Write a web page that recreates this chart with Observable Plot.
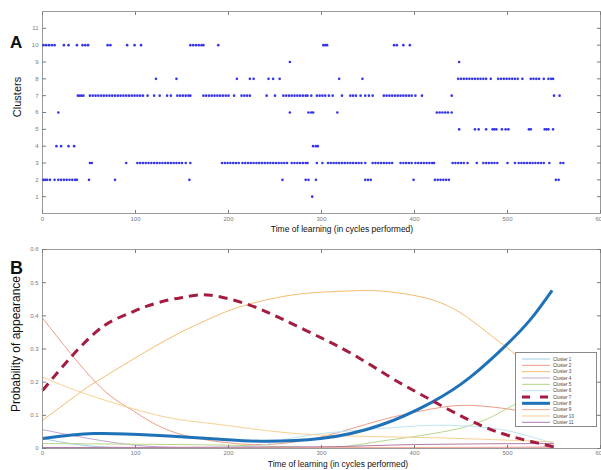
<!DOCTYPE html>
<html><head><meta charset="utf-8">
<script src="https://cdn.jsdelivr.net/npm/d3@7"></script>
<script src="https://cdn.jsdelivr.net/npm/@observablehq/plot@0.6"></script>
<style>
body{margin:0;background:#fff;font-family:"Liberation Sans",Arial,sans-serif;}
#wrap{position:relative;width:601px;height:470px;overflow:hidden;background:#fff;}
.abs{position:absolute;}
.panel{position:absolute;left:0;}
.lbl{position:absolute;color:#111;white-space:nowrap;}
</style>
</head><body>
<div id="wrap"></div>
<script>
// ---------- Panel A data: time steps (cycles) at which each cluster was visited ----------
const c1 = [290];
const c2 = [1,3,5,8,13,17,20,23,26,29,32,35,37,50,78,158,258,283,286,294,347,350,353,399,422,425,428,431,434,437,552,555];
const c3 = [51,53,90,102,105,108,111,114,117,120,123,126,129,132,135,138,141,144,147,150,154,159,193,196,199,202,205,208,211,215,218,221,224,227,230,233,236,239,242,245,248,251,254,257,260,263,268,271,274,277,280,283,285,295,301,307,310,313,316,319,322,325,328,331,334,337,340,343,347,355,358,361,364,367,370,373,376,385,388,391,394,397,401,404,407,410,413,416,419,421,441,444,447,450,453,457,467,474,477,480,483,486,489,500,508,512,515,518,521,524,527,530,533,536,539,545,557,560];
const c4 = [15,20,28,34,291,294,296];
const c5 = [448,465,469,477,484,486,488,494,498,501,523,525,540,542,544,549];
const c6 = [17,266,286,289,291,317,424,427,430,433,436,440];
const c7 = [38,40,42,44,51,54,57,60,63,66,69,72,75,78,81,84,87,90,93,96,99,102,105,108,113,120,126,134,138,145,148,151,154,157,159,173,176,179,182,185,188,191,194,197,200,206,214,217,220,223,241,250,259,262,265,268,271,274,277,280,283,285,289,295,298,301,304,308,312,322,331,334,337,342,347,351,355,367,370,373,376,379,382,385,388,391,394,397,401,408,440,550,556];
const c8 = [122,144,209,223,227,243,248,255,319,344,447,450,453,456,459,462,465,468,471,474,477,482,490,493,496,499,502,505,508,511,516,525,528,531,534,539,544,547,549];
const c9 = [266,448];
const c10 = [1,4,7,10,13,23,28,37,43,46,49,70,73,91,99,106,159,162,165,168,171,173,189,302,304,306,378,381,388,395];
const c11 = [];
const clusterTimes = [c1,c2,c3,c4,c5,c6,c7,c8,c9,c10,c11];

// ---------- Panel B data: probability of appearance curves ----------
const seriesNames = ["Cluster 1","Cluster 2","Cluster 3","Cluster 4","Cluster 5","Cluster 6","Cluster 7","Cluster 8","Cluster 9","Cluster 10","Cluster 11"];
const p1 = [[0,0.03],[30,0.015],[70,0.004],[150,0.001],[300,0.001],[550,0.001]];
const p2 = [[0,0.393],[57,0.2],[91,0.125],[120,0.075],[152,0.04],[191,0.02],[240,0.012],[300,0.035],[363,0.085],[420,0.12],[460,0.13],[510,0.115],[550,0.09]];
const p3 = [[0,0.085],[41,0.17],[57,0.2],[98,0.27],[145,0.345],[191,0.405],[222,0.435],[274,0.465],[331,0.475],[363,0.475],[417,0.45],[457,0.395],[485,0.335],[510,0.28],[530,0.22],[550,0.15]];
const p4 = [[0,0.057],[50,0.03],[100,0.01],[150,0.003],[250,0.001],[550,0.004]];
const p5 = [[0,0.015],[100,0.013],[200,0.01],[306,0.003],[371,0.025],[420,0.045],[457,0.067],[475,0.085],[506,0.13],[550,0.19]];
const p6 = [[0,0.002],[200,0.004],[250,0.02],[300,0.045],[363,0.06],[420,0.07],[470,0.065],[506,0.05],[550,0.015]];
const p7 = [[0,0.175],[32,0.28],[57,0.35],[75,0.385],[95,0.41],[113,0.43],[136,0.448],[156,0.458],[181,0.462],[222,0.433],[258,0.39],[295,0.34],[333,0.285],[374,0.215],[399,0.175],[435,0.12],[471,0.07],[506,0.035],[550,0.005]];
const p8 = [[0,0.03],[55,0.045],[120,0.04],[191,0.028],[234,0.022],[299,0.03],[363,0.07],[419,0.14],[460,0.215],[498,0.31],[525,0.39],[548,0.477]];
const p9 = [[0,0.002],[300,0.003],[550,0.004]];
const p10 = [[0,0.215],[41,0.17],[91,0.125],[141,0.09],[191,0.072],[274,0.045],[374,0.035],[450,0.03],[550,0.02]];
const p11 = [[0,0.003],[300,0.005],[400,0.012],[550,0.015]];
const probSeries = [p1,p2,p3,p4,p5,p6,p7,p8,p9,p10,p11];

const seriesColors = ["#9ecbe6","#ee9c86","#f5bb6c","#c6a6d6","#b7d68a","#bde5f3","#a41d40","#1f72b8","#f3b09c","#f8d192","#b07aa4"];
const seriesWidths = [1,1,1,1,1,1,3,3,1,1,1];
const seriesDash = [null,null,null,null,null,null,"9,6",null,null,null,null];
const seriesCurve = ["monotone-x","natural","natural","monotone-x","monotone-x","natural","natural","natural","monotone-x","natural","monotone-x"];

// ---------- ticks ----------
const xTicks = [0,100,200,300,400,500,600];
const yTicksA = [1,2,3,4,5,6,7,8,9,10,11];
const yTicksB = [0,0.1,0.2,0.3,0.4,0.5,0.6];

const FONT = '"Liberation Sans", Arial, sans-serif';
const AX = "#7a7a7a";
const wrap = document.getElementById("wrap");

// ---------- Panel A ----------
const scatter = [];
clusterTimes.forEach((xs, i) => xs.forEach(t => scatter.push({t, cluster: i + 1})));

const A = Plot.plot({
  width: 601, height: 240,
  marginTop: 11, marginBottom: 27, marginLeft: 42, marginRight: 1,
  style: {fontFamily: FONT, background: "transparent", overflow: "visible"},
  x: {domain: [0, 600]},
  y: {domain: [0, 12]},
  marks: [
    Plot.frame({stroke: "#9a9a9a"}),
    Plot.axisX(xTicks, {anchor: "bottom", tickSize: -3, tickPadding: 6, color: AX, fontSize: 6, label: null}),
    Plot.axisX(xTicks, {anchor: "top", tickSize: -3, tickFormat: () => "", color: AX, label: null}),
    Plot.axisY(yTicksA, {anchor: "left", tickSize: -4, tickPadding: 8, color: AX, fontSize: 6, label: null}),
    Plot.axisY(yTicksA, {anchor: "right", tickSize: -4, tickFormat: () => "", color: AX, label: null}),
    Plot.dot(scatter, {x: "t", y: "cluster", r: 1.3, fill: "#3434ea"})
  ]
});
A.classList.add("panel"); A.style.top = "0px";
wrap.appendChild(A);

// ---------- Panel B ----------
const lineRows = [];
probSeries.forEach((pts, i) => pts.forEach(([t, p]) => lineRows.push({t, p, s: seriesNames[i], i})));
const order = [0,1,2,3,4,5,8,9,10,7,6];
const lineMarks = order.map(i => Plot.line(lineRows.filter(d => d.i === i), {
  x: "t", y: "p", stroke: seriesColors[i], strokeWidth: seriesWidths[i],
  strokeDasharray: seriesDash[i] || undefined, curve: seriesCurve[i], strokeLinecap: "butt"
}));

const B = Plot.plot({
  width: 601, height: 230,
  marginTop: 9, marginBottom: 22, marginLeft: 42, marginRight: 1,
  style: {fontFamily: FONT, background: "transparent", overflow: "visible"},
  x: {domain: [0, 600]},
  y: {domain: [0, 0.6]},
  marks: [
    ...lineMarks,
    Plot.frame({stroke: "#9a9a9a"}),
    Plot.axisX(xTicks, {anchor: "bottom", tickSize: -3, tickPadding: 5, color: AX, fontSize: 6, label: null}),
    Plot.axisX(xTicks, {anchor: "top", tickSize: -3, tickFormat: () => "", color: AX, label: null}),
    Plot.axisY(yTicksB, {anchor: "left", tickSize: -4, tickPadding: 8, color: AX, fontSize: 6, label: null, tickFormat: d => String(d)}),
    Plot.axisY(yTicksB, {anchor: "right", tickSize: -4, tickFormat: () => "", color: AX, label: null})
  ]
});
B.classList.add("panel"); B.style.top = "240px";
wrap.appendChild(B);

// ---------- Legend (panel B) ----------
const leg = d3.select(wrap).append("svg")
  .attr("class", "abs").attr("width", 82).attr("height", 75)
  .style("left", "515px").style("top", "352px");
leg.append("rect").attr("x", 0.5).attr("y", 0.5).attr("width", 81).attr("height", 74)
  .attr("fill", "#fff").attr("stroke", "#8a8a8a").attr("stroke-width", 1);
seriesNames.forEach((name, i) => {
  const y = 7 + i * 6.33;
  leg.append("line").attr("x1", 7).attr("x2", 35).attr("y1", y).attr("y2", y)
    .attr("stroke", seriesColors[i]).attr("stroke-width", seriesWidths[i])
    .attr("stroke-dasharray", seriesDash[i] ? "8,10" : null);
  leg.append("text").attr("x", 38).attr("y", y).attr("dy", "0.35em")
    .attr("font-size", 4.6).attr("fill", "#444").attr("font-family", FONT).text(name);
});

// ---------- Labels ----------
function label(text, css) {
  const d = document.createElement("div");
  d.className = "lbl"; d.textContent = text;
  Object.assign(d.style, css);
  wrap.appendChild(d);
  return d;
}
label("A", {left: "10px", top: "34px", fontSize: "17px", fontWeight: "bold", lineHeight: "17px"});
label("B", {left: "10px", top: "259px", fontSize: "18px", fontWeight: "bold", lineHeight: "18px"});
label("Time of learning (in cycles performed)", {left: "342px", top: "229px", fontSize: "8.5px", transform: "translate(-50%,-50%)"});
label("Time of learning (in cycles performed)", {left: "338px", top: "464px", fontSize: "8.4px", transform: "translate(-50%,-50%)"});
label("Clusters", {left: "17px", top: "97px", fontSize: "11px", transform: "translate(-50%,-50%) rotate(-90deg)"});
label("Probability of appearance", {left: "16px", top: "344px", fontSize: "12px", transform: "translate(-50%,-50%) rotate(-90deg)"});
</script>
</body></html>
